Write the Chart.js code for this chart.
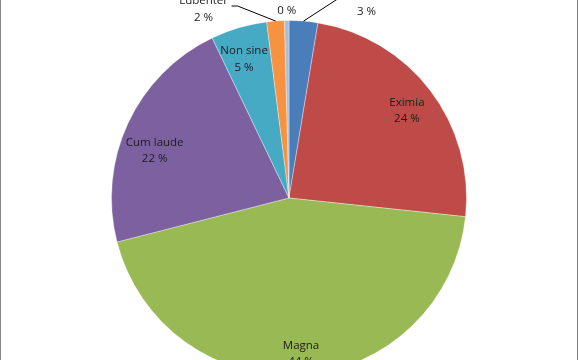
<!DOCTYPE html>
<html>
    <head>
        <meta charset="utf-8">
        <script src="https://cdn.jsdelivr.net/npm/chart.js@4.4.1/dist/chart.umd.min.js"></script>
        <style>
            html, body { margin: 0; padding: 0; background: #fff; overflow: hidden; }
            #frame { position: relative; width: 578px; height: 360px; overflow: hidden; background: #fff; }
            #chart-box { position: absolute; left: 0; top: 0; width: 578px; height: 396px; }
            .edge { position: absolute; top: 0; width: 1px; height: 360px; background: #868686; }
        </style>
    </head>

    <body>
        <div id="frame">
            <div id="chart-box">
                <canvas id="myChart"></canvas>
            </div>
            <div class="edge" style="left: 0"></div>
            <div class="edge" style="left: 577px"></div>
        </div>

        <script>
            // grade shares, clockwise from 12 o'clock
            const grades = ['Laudatur', 'Eximia', 'Magna', 'Cum laude', 'Non sine', 'Lubenter', 'Approbatur'];
            const shares = [2.6, 24.0, 44.2, 21.8, 5.1, 1.6, 0.4];
            const sliceColors = ['#4a7ebb', '#be4b48', '#98b954', '#7d60a0', '#46aac5', '#f69240', '#a7bfde'];

            // small slices get their label pushed outside, offset from the slice's rim
            const outside = {
                0: { dx: 63, dy: -18, line: [[-26, -6]] },
                5: { dx: -72, dy: -12, line: [[34, -3], [28, -3]] },
                6: { dx: 0, dy: -18, line: null, noName: true }
            };
            // nudges for the labels that sit inside their slice
            const nudge = { 1: [0, 2], 2: [1, 3], 3: [0, 15], 4: [-3, 3] };

            const pieLabels = {
                id: 'pieLabels',
                afterDatasetsDraw(chart) {
                    const ctx = chart.ctx;
                    const meta = chart.getDatasetMeta(0);
                    const data = chart.data.datasets[0].data;
                    const total = data.reduce((a, b) => a + b, 0);
                    ctx.save();
                    ctx.font = '11.5px "Open Sans", sans-serif';
                    ctx.fillStyle = '#1c1c1c';
                    ctx.textAlign = 'center';
                    ctx.textBaseline = 'middle';
                    meta.data.forEach((arc, i) => {
                        const p = arc.getProps(['x', 'y', 'startAngle', 'endAngle', 'outerRadius'], true);
                        const mid = (p.startAngle + p.endAngle) / 2;
                        const pct = Math.round(data[i] / total * 100) + ' %';
                        let cx, cy;
                        const o = outside[i];
                        if (o) {
                            const rx = p.x + Math.cos(mid) * p.outerRadius;
                            const ry = p.y + Math.sin(mid) * p.outerRadius;
                            cx = rx + o.dx;
                            cy = ry + o.dy;
                            if (o.line) {
                                ctx.strokeStyle = '#000';
                                ctx.lineWidth = 1;
                                ctx.beginPath();
                                ctx.moveTo(rx, ry);
                                o.line.forEach(pt => ctx.lineTo(cx + pt[0], cy + pt[1]));
                                ctx.stroke();
                            }
                        } else {
                            const r = p.outerRadius * (i === 2 ? 0.86 : 0.835);
                            const n = nudge[i] || [0, 0];
                            cx = p.x + Math.cos(mid) * r + n[0];
                            cy = p.y + Math.sin(mid) * r + n[1];
                        }
                        if (!(o && o.noName)) ctx.fillText(grades[i], cx, cy - 8);
                        ctx.fillText(pct, cx, cy + 8.5);
                    });
                    ctx.restore();
                }
            };

            const ctx = document.getElementById('myChart').getContext('2d');
            const myChart = new Chart(ctx, {
                type: 'pie',
                data: {
                    labels: grades,
                    datasets: [{
                        data: shares,
                        backgroundColor: sliceColors,
                        borderColor: 'rgba(255,255,255,0.35)',
                        borderWidth: 1
                    }]
                },
                options: {
                    responsive: true,
                    maintainAspectRatio: false,
                    animation: false,
                    layout: { padding: { top: 20, bottom: 20, left: 111, right: 111 } },
                    plugins: {
                        legend: { display: false },
                        tooltip: { enabled: false }
                    }
                },
                plugins: [pieLabels]
            });
        </script>
    </body>
</html>
